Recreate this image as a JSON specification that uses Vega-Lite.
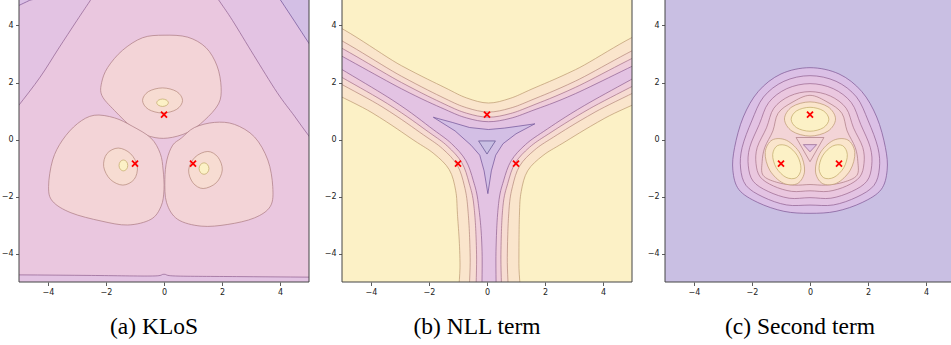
{
  "$schema": "https://vega.github.io/schema/vega-lite/v6.json",
  "padding": {"left": 1, "top": -4, "right": -4, "bottom": 5},
  "background": "white",
  "spacing": 33,
  "bounds": "flush",
  "config": {
    "view": {"stroke": null},
    "axis": {"domain": false, "grid": false, "ticks": true, "tickSize": 3.5, "tickColor": "#333", "tickWidth": 0.8, "labelFont": "DejaVu Sans", "labelFontSize": 8, "labelColor": "#222", "labelPadding": 2.5, "zindex": 1},
    "title": {"font": "Liberation Serif", "fontSize": 23.5, "fontWeight": "normal", "color": "#000", "orient": "bottom", "offset": 19, "anchor": "middle"}
  },
  "datasets": {
    "pts": [{"x": 0, "y": 0.87}, {"x": -1, "y": -0.85}, {"x": 1, "y": -0.85}],
    "a": [
      {"g":1,"lv":4,"i":0,"x":-6,"y":-6},{"g":1,"lv":4,"i":1,"x":6,"y":-6},{"g":1,"lv":4,"i":2,"x":6,"y":6},{"g":1,"lv":4,"i":3,"x":-6,"y":6},
      {"g":2,"lv":3,"i":0,"x":-1.74,"y":6.1},{"g":2,"lv":3,"i":1,"x":-2.54,"y":4.88},{"g":2,"lv":3,"i":2,"x":-3,"y":4.18},{"g":2,"lv":3,"i":3,"x":-3.65,"y":3.17},{"g":2,"lv":3,"i":4,"x":-4.27,"y":2.19},{"g":2,"lv":3,"i":5,"x":-5.03,"y":1.17},{"g":2,"lv":3,"i":6,"x":-5.6,"y":0.45},{"g":2,"lv":3,"i":7,"x":-6.5,"y":1},{"g":2,"lv":3,"i":8,"x":-6.5,"y":6.1},
      {"g":3,"lv":2,"i":0,"x":-5.6,"y":4.41},{"g":3,"lv":2,"i":1,"x":-5.03,"y":4.69},{"g":3,"lv":2,"i":2,"x":-4.64,"y":4.88},{"g":3,"lv":2,"i":3,"x":-4.1,"y":5.15},{"g":3,"lv":2,"i":4,"x":-6.5,"y":6.2},
      {"g":4,"lv":3,"i":0,"x":1.22,"y":5.9},{"g":4,"lv":3,"i":1,"x":1.91,"y":4.86},{"g":4,"lv":3,"i":2,"x":2.36,"y":4.18},{"g":4,"lv":3,"i":3,"x":3.1,"y":2.95},{"g":4,"lv":3,"i":4,"x":3.9,"y":1.65},{"g":4,"lv":3,"i":5,"x":4.5,"y":0.82},{"g":4,"lv":3,"i":6,"x":5.02,"y":0.09},{"g":4,"lv":3,"i":7,"x":5.6,"y":-0.65},{"g":4,"lv":3,"i":8,"x":6.6,"y":-0.3},{"g":4,"lv":3,"i":9,"x":6.6,"y":5.9},
      {"g":5,"lv":1,"i":0,"x":3.5,"y":5.7},{"g":5,"lv":1,"i":1,"x":4.04,"y":4.86},{"g":5,"lv":1,"i":2,"x":4.5,"y":4.15},{"g":5,"lv":1,"i":3,"x":5.02,"y":3.34},{"g":5,"lv":1,"i":4,"x":5.6,"y":2.44},{"g":5,"lv":1,"i":5,"x":6.6,"y":3},{"g":5,"lv":1,"i":6,"x":6.6,"y":5.7},
      {"g":6,"lv":3,"i":0,"x":-7.5,"y":-4.74},{"g":6,"lv":3,"i":1,"x":-5,"y":-4.75},{"g":6,"lv":3,"i":2,"x":-2.5,"y":-4.77},{"g":6,"lv":3,"i":3,"x":-0.4,"y":-4.79},{"g":6,"lv":3,"i":4,"x":0,"y":-4.73},{"g":6,"lv":3,"i":5,"x":0.4,"y":-4.79},{"g":6,"lv":3,"i":6,"x":2.5,"y":-4.81},{"g":6,"lv":3,"i":7,"x":5,"y":-4.83},{"g":6,"lv":3,"i":8,"x":7.5,"y":-4.85},{"g":6,"lv":3,"i":9,"x":7.5,"y":-7},{"g":6,"lv":3,"i":10,"x":-7.5,"y":-7},
      {"g":7,"lv":6,"i":0,"x":0,"y":3.66},{"g":7,"lv":6,"i":1,"x":0.82,"y":3.59},{"g":7,"lv":6,"i":2,"x":1.45,"y":3.22},{"g":7,"lv":6,"i":3,"x":1.83,"y":2.58},{"g":7,"lv":6,"i":4,"x":1.97,"y":1.83},{"g":7,"lv":6,"i":5,"x":1.88,"y":1.25},{"g":7,"lv":6,"i":6,"x":1.39,"y":0.67},{"g":7,"lv":6,"i":7,"x":0.82,"y":0.25},{"g":7,"lv":6,"i":8,"x":0.13,"y":0.05},{"g":7,"lv":6,"i":9,"x":-0.45,"y":0.1},{"g":7,"lv":6,"i":10,"x":-1.02,"y":0.36},{"g":7,"lv":6,"i":11,"x":-1.71,"y":1.02},{"g":7,"lv":6,"i":12,"x":-2.14,"y":1.54},{"g":7,"lv":6,"i":13,"x":-2.15,"y":2},{"g":7,"lv":6,"i":14,"x":-1.94,"y":2.53},{"g":7,"lv":6,"i":15,"x":-1.43,"y":3.13},{"g":7,"lv":6,"i":16,"x":-0.74,"y":3.57},
      {"g":8,"lv":6,"i":0,"x":-2.41,"y":0.85},{"g":8,"lv":6,"i":1,"x":-1.71,"y":0.76},{"g":8,"lv":6,"i":2,"x":-1.1,"y":0.47},{"g":8,"lv":6,"i":3,"x":-0.45,"y":0.05},{"g":8,"lv":6,"i":4,"x":-0.13,"y":-0.49},{"g":8,"lv":6,"i":5,"x":-0.03,"y":-1.07},{"g":8,"lv":6,"i":6,"x":0,"y":-1.76},{"g":8,"lv":6,"i":7,"x":-0.1,"y":-2.34},{"g":8,"lv":6,"i":8,"x":-0.45,"y":-2.8},{"g":8,"lv":6,"i":9,"x":-1.25,"y":-3},{"g":8,"lv":6,"i":10,"x":-2.17,"y":-2.86},{"g":8,"lv":6,"i":11,"x":-3.21,"y":-2.57},{"g":8,"lv":6,"i":12,"x":-3.84,"y":-2.17},{"g":8,"lv":6,"i":13,"x":-3.98,"y":-1.65},{"g":8,"lv":6,"i":14,"x":-3.84,"y":-0.72},{"g":8,"lv":6,"i":15,"x":-3.5,"y":-0.02},{"g":8,"lv":6,"i":16,"x":-2.98,"y":0.56},
      {"g":9,"lv":6,"i":0,"x":0.3,"y":-0.2},{"g":9,"lv":6,"i":1,"x":0.6,"y":0.05},{"g":9,"lv":6,"i":2,"x":1.05,"y":0.42},{"g":9,"lv":6,"i":3,"x":1.74,"y":0.6},{"g":9,"lv":6,"i":4,"x":2.43,"y":0.53},{"g":9,"lv":6,"i":5,"x":3.12,"y":0.09},{"g":9,"lv":6,"i":6,"x":3.58,"y":-0.72},{"g":9,"lv":6,"i":7,"x":3.75,"y":-1.65},{"g":9,"lv":6,"i":8,"x":3.67,"y":-2.34},{"g":9,"lv":6,"i":9,"x":3.12,"y":-2.75},{"g":9,"lv":6,"i":10,"x":2.2,"y":-2.98},{"g":9,"lv":6,"i":11,"x":1.28,"y":-3.04},{"g":9,"lv":6,"i":12,"x":0.47,"y":-2.8},{"g":9,"lv":6,"i":13,"x":0.09,"y":-2.22},{"g":9,"lv":6,"i":14,"x":0.03,"y":-1.41},{"g":9,"lv":6,"i":15,"x":0.1,"y":-0.72},
      {"g":10,"lv":7,"i":0,"x":0.64,"y":1.37},{"g":10,"lv":7,"i":1,"x":0.438,"y":1.681},{"g":10,"lv":7,"i":2,"x":-0.05,"y":1.81},{"g":10,"lv":7,"i":3,"x":-0.538,"y":1.681},{"g":10,"lv":7,"i":4,"x":-0.74,"y":1.37},{"g":10,"lv":7,"i":5,"x":-0.538,"y":1.059},{"g":10,"lv":7,"i":6,"x":-0.05,"y":0.93},{"g":10,"lv":7,"i":7,"x":0.438,"y":1.059},
      {"g":11,"lv":7,"i":0,"x":-0.92,"y":-0.95},{"g":11,"lv":7,"i":1,"x":-1.15,"y":-0.5},{"g":11,"lv":7,"i":2,"x":-1.58,"y":-0.3},{"g":11,"lv":7,"i":3,"x":-1.97,"y":-0.5},{"g":11,"lv":7,"i":4,"x":-2.08,"y":-0.95},{"g":11,"lv":7,"i":5,"x":-1.85,"y":-1.4},{"g":11,"lv":7,"i":6,"x":-1.42,"y":-1.6},{"g":11,"lv":7,"i":7,"x":-1.03,"y":-1.4},
      {"g":12,"lv":7,"i":0,"x":2.01,"y":-1.07},{"g":12,"lv":7,"i":1,"x":1.86,"y":-0.62},{"g":12,"lv":7,"i":2,"x":1.51,"y":-0.42},{"g":12,"lv":7,"i":3,"x":1.07,"y":-0.62},{"g":12,"lv":7,"i":4,"x":0.85,"y":-1.07},{"g":12,"lv":7,"i":5,"x":1,"y":-1.52},{"g":12,"lv":7,"i":6,"x":1.35,"y":-1.72},{"g":12,"lv":7,"i":7,"x":1.8,"y":-1.52},
      {"g":13,"lv":9,"i":0,"x":0.15,"y":1.29},{"g":13,"lv":9,"i":1,"x":0.09,"y":1.38},{"g":13,"lv":9,"i":2,"x":-0.05,"y":1.42},{"g":13,"lv":9,"i":3,"x":-0.19,"y":1.38},{"g":13,"lv":9,"i":4,"x":-0.25,"y":1.29},{"g":13,"lv":9,"i":5,"x":-0.19,"y":1.2},{"g":13,"lv":9,"i":6,"x":-0.05,"y":1.16},{"g":13,"lv":9,"i":7,"x":0.09,"y":1.2},
      {"g":14,"lv":9,"i":0,"x":-1.25,"y":-0.91},{"g":14,"lv":9,"i":1,"x":-1.29,"y":-0.78},{"g":14,"lv":9,"i":2,"x":-1.4,"y":-0.72},{"g":14,"lv":9,"i":3,"x":-1.51,"y":-0.78},{"g":14,"lv":9,"i":4,"x":-1.55,"y":-0.91},{"g":14,"lv":9,"i":5,"x":-1.51,"y":-1.04},{"g":14,"lv":9,"i":6,"x":-1.4,"y":-1.1},{"g":14,"lv":9,"i":7,"x":-1.29,"y":-1.04},
      {"g":15,"lv":9,"i":0,"x":1.55,"y":-1.02},{"g":15,"lv":9,"i":1,"x":1.5,"y":-0.88},{"g":15,"lv":9,"i":2,"x":1.38,"y":-0.82},{"g":15,"lv":9,"i":3,"x":1.26,"y":-0.88},{"g":15,"lv":9,"i":4,"x":1.21,"y":-1.02},{"g":15,"lv":9,"i":5,"x":1.26,"y":-1.16},{"g":15,"lv":9,"i":6,"x":1.38,"y":-1.22},{"g":15,"lv":9,"i":7,"x":1.5,"y":-1.16}
    ],
    "b": [
      {"g":1,"lv":9,"i":0,"x":-6,"y":-6},{"g":1,"lv":9,"i":1,"x":6,"y":-6},{"g":1,"lv":9,"i":2,"x":6,"y":6},{"g":1,"lv":9,"i":3,"x":-6,"y":6},
      {"g":2,"lv":8,"i":0,"x":-5.95,"y":4.27},{"g":2,"lv":8,"i":1,"x":-2.95,"y":2.59},{"g":2,"lv":8,"i":2,"x":-1.45,"y":1.819},{"g":2,"lv":8,"i":3,"x":-0.7,"y":1.457},{"g":2,"lv":8,"i":4,"x":0.05,"y":1.28},{"g":2,"lv":8,"i":5,"x":0.8,"y":1.444},{"g":2,"lv":8,"i":6,"x":1.55,"y":1.772},{"g":2,"lv":8,"i":7,"x":3.05,"y":2.45},{"g":2,"lv":8,"i":8,"x":6.05,"y":3.96},
      {"g":2,"lv":8,"i":9,"x":7.042,"y":2.39},{"g":2,"lv":8,"i":10,"x":4.065,"y":0.75},{"g":2,"lv":8,"i":11,"x":2.618,"y":-0.126},{"g":2,"lv":8,"i":12,"x":1.929,"y":-0.563},{"g":2,"lv":8,"i":13,"x":1.401,"y":-1.1},{"g":2,"lv":8,"i":14,"x":1.179,"y":-1.83},{"g":2,"lv":8,"i":15,"x":1.118,"y":-2.657},{"g":2,"lv":8,"i":16,"x":1.1,"y":-4.355},{"g":2,"lv":8,"i":17,"x":1.1,"y":-7.8},
      {"g":2,"lv":8,"i":18,"x":-0.92,"y":-7.781},{"g":2,"lv":8,"i":19,"x":-0.93,"y":-4.33},{"g":2,"lv":8,"i":20,"x":-1.018,"y":-2.629},{"g":2,"lv":8,"i":21,"x":-1.079,"y":-1.799},{"g":2,"lv":8,"i":22,"x":-1.301,"y":-1.06},{"g":2,"lv":8,"i":23,"x":-1.829,"y":-0.499},{"g":2,"lv":8,"i":24,"x":-2.518,"y":-0.031},{"g":2,"lv":8,"i":25,"x":-3.965,"y":0.94},{"g":2,"lv":8,"i":26,"x":-6.942,"y":2.72},
      {"g":3,"lv":7,"i":0,"x":-5.95,"y":3.9},{"g":3,"lv":7,"i":1,"x":-2.95,"y":2.22},{"g":3,"lv":7,"i":2,"x":-1.45,"y":1.438},{"g":3,"lv":7,"i":3,"x":-0.7,"y":1.113},{"g":3,"lv":7,"i":4,"x":0.05,"y":0.963},{"g":3,"lv":7,"i":5,"x":0.8,"y":1.1},{"g":3,"lv":7,"i":6,"x":1.55,"y":1.391},{"g":3,"lv":7,"i":7,"x":3.05,"y":2.05},{"g":3,"lv":7,"i":8,"x":6.05,"y":3.55},
      {"g":3,"lv":7,"i":9,"x":6.686,"y":2.61},{"g":3,"lv":7,"i":10,"x":3.723,"y":0.96},{"g":3,"lv":7,"i":11,"x":2.288,"y":0.08},{"g":3,"lv":7,"i":12,"x":1.631,"y":-0.377},{"g":3,"lv":7,"i":13,"x":1.126,"y":-0.929},{"g":3,"lv":7,"i":14,"x":0.881,"y":-1.643},{"g":3,"lv":7,"i":15,"x":0.76,"y":-2.451},{"g":3,"lv":7,"i":16,"x":0.7,"y":-4.142},{"g":3,"lv":7,"i":17,"x":0.69,"y":-7.585},
      {"g":3,"lv":7,"i":18,"x":-0.56,"y":-7.575},{"g":3,"lv":7,"i":19,"x":-0.58,"y":-4.132},{"g":3,"lv":7,"i":20,"x":-0.66,"y":-2.438},{"g":3,"lv":7,"i":21,"x":-0.781,"y":-1.626},{"g":3,"lv":7,"i":22,"x":-1.026,"y":-0.901},{"g":3,"lv":7,"i":23,"x":-1.531,"y":-0.326},{"g":3,"lv":7,"i":24,"x":-2.188,"y":0.16},{"g":3,"lv":7,"i":25,"x":-3.623,"y":1.15},{"g":3,"lv":7,"i":26,"x":-6.586,"y":2.96},
      {"g":4,"lv":5,"i":0,"x":-5.95,"y":3.67},{"g":4,"lv":5,"i":1,"x":-2.95,"y":2},{"g":4,"lv":5,"i":2,"x":-1.45,"y":1.235},{"g":4,"lv":5,"i":3,"x":-0.7,"y":0.922},{"g":4,"lv":5,"i":4,"x":0.05,"y":0.782},{"g":4,"lv":5,"i":5,"x":0.8,"y":0.909},{"g":4,"lv":5,"i":6,"x":1.55,"y":1.188},{"g":4,"lv":5,"i":7,"x":3.05,"y":1.83},{"g":4,"lv":5,"i":8,"x":6.05,"y":3.31},
      {"g":4,"lv":5,"i":9,"x":6.493,"y":2.74},{"g":4,"lv":5,"i":10,"x":3.537,"y":1.08},{"g":4,"lv":5,"i":11,"x":2.112,"y":0.188},{"g":4,"lv":5,"i":12,"x":1.466,"y":-0.274},{"g":4,"lv":5,"i":13,"x":0.97,"y":-0.832},{"g":4,"lv":5,"i":14,"x":0.716,"y":-1.541},{"g":4,"lv":5,"i":15,"x":0.55,"y":-2.342},{"g":4,"lv":5,"i":16,"x":0.48,"y":-4.025},{"g":4,"lv":5,"i":17,"x":0.47,"y":-7.464},
      {"g":4,"lv":5,"i":18,"x":-0.34,"y":-7.464},{"g":4,"lv":5,"i":19,"x":-0.36,"y":-4.025},{"g":4,"lv":5,"i":20,"x":-0.45,"y":-2.337},{"g":4,"lv":5,"i":21,"x":-0.616,"y":-1.531},{"g":4,"lv":5,"i":22,"x":-0.87,"y":-0.811},{"g":4,"lv":5,"i":23,"x":-1.366,"y":-0.231},{"g":4,"lv":5,"i":24,"x":-2.012,"y":0.261},{"g":4,"lv":5,"i":25,"x":-3.437,"y":1.26},{"g":4,"lv":5,"i":26,"x":-6.393,"y":3.08},
      {"g":5,"lv":3,"i":0,"x":-5.95,"y":3.42},{"g":5,"lv":3,"i":1,"x":-2.95,"y":1.78},{"g":5,"lv":3,"i":2,"x":-1.45,"y":1.056},{"g":5,"lv":3,"i":3,"x":-0.7,"y":0.755},{"g":5,"lv":3,"i":4,"x":0.05,"y":0.624},{"g":5,"lv":3,"i":5,"x":0.8,"y":0.742},{"g":5,"lv":3,"i":6,"x":1.55,"y":1.009},{"g":5,"lv":3,"i":7,"x":3.05,"y":1.61},{"g":5,"lv":3,"i":8,"x":6.05,"y":3.06},
      {"g":5,"lv":3,"i":9,"x":6.319,"y":2.89},{"g":5,"lv":3,"i":10,"x":3.371,"y":1.2},{"g":5,"lv":3,"i":11,"x":1.957,"y":0.285},{"g":5,"lv":3,"i":12,"x":1.321,"y":-0.185},{"g":5,"lv":3,"i":13,"x":0.833,"y":-0.747},{"g":5,"lv":3,"i":14,"x":0.571,"y":-1.451},{"g":5,"lv":3,"i":15,"x":0.4,"y":-2.247},{"g":5,"lv":3,"i":16,"x":0.31,"y":-3.93},{"g":5,"lv":3,"i":17,"x":0.29,"y":-7.364},
      {"g":5,"lv":3,"i":18,"x":-0.16,"y":-7.364},{"g":5,"lv":3,"i":19,"x":-0.17,"y":-3.93},{"g":5,"lv":3,"i":20,"x":-0.3,"y":-2.247},{"g":5,"lv":3,"i":21,"x":-0.471,"y":-1.448},{"g":5,"lv":3,"i":22,"x":-0.733,"y":-0.732},{"g":5,"lv":3,"i":23,"x":-1.221,"y":-0.148},{"g":5,"lv":3,"i":24,"x":-1.857,"y":0.351},{"g":5,"lv":3,"i":25,"x":-3.271,"y":1.39},{"g":5,"lv":3,"i":26,"x":-6.219,"y":3.23}
    ],
    "tb": [
      {"g":1,"lv":1,"i":0,"x":-1.85,"y":0.78},{"g":1,"lv":1,"i":1,"x":-1.2,"y":0.6},{"g":1,"lv":1,"i":2,"x":-0.6,"y":0.42},{"g":1,"lv":1,"i":3,"x":0.05,"y":0.35},{"g":1,"lv":1,"i":4,"x":0.6,"y":0.4},{"g":1,"lv":1,"i":5,"x":1.1,"y":0.47},{"g":1,"lv":1,"i":6,"x":1.65,"y":0.55},{"g":1,"lv":1,"i":7,"x":1,"y":0.2},{"g":1,"lv":1,"i":8,"x":0.55,"y":-0.15},{"g":1,"lv":1,"i":9,"x":0.3,"y":-0.55},{"g":1,"lv":1,"i":10,"x":0.15,"y":-1.1},{"g":1,"lv":1,"i":11,"x":0.03,"y":-1.9},{"g":1,"lv":1,"i":12,"x":-0.1,"y":-1.1},{"g":1,"lv":1,"i":13,"x":-0.25,"y":-0.55},{"g":1,"lv":1,"i":14,"x":-0.55,"y":-0.2},{"g":1,"lv":1,"i":15,"x":-1.1,"y":0.3},
      {"g":2,"lv":0,"i":0,"x":-0.29,"y":-0.05},{"g":2,"lv":0,"i":1,"x":0.29,"y":-0.05},{"g":2,"lv":0,"i":2,"x":0,"y":-0.51}
    ],
    "c": [
      {"g":1,"lv":0,"i":0,"x":-6,"y":-6},{"g":1,"lv":0,"i":1,"x":6,"y":-6},{"g":1,"lv":0,"i":2,"x":6,"y":6},{"g":1,"lv":0,"i":3,"x":-6,"y":6},
      {"g":2,"lv":2,"i":0,"x":0,"y":2.52},{"g":2,"lv":2,"i":1,"x":1,"y":2.3},{"g":2,"lv":2,"i":2,"x":1.78,"y":1.69},{"g":2,"lv":2,"i":3,"x":2.3,"y":0.79},{"g":2,"lv":2,"i":4,"x":2.6,"y":-0.28},{"g":2,"lv":2,"i":5,"x":2.66,"y":-1.08},{"g":2,"lv":2,"i":6,"x":2.45,"y":-1.76},{"g":2,"lv":2,"i":7,"x":1.8,"y":-2.21},{"g":2,"lv":2,"i":8,"x":0.9,"y":-2.52},{"g":2,"lv":2,"i":9,"x":0,"y":-2.59},{"g":2,"lv":2,"i":10,"x":-0.9,"y":-2.52},{"g":2,"lv":2,"i":11,"x":-1.8,"y":-2.21},{"g":2,"lv":2,"i":12,"x":-2.45,"y":-1.76},{"g":2,"lv":2,"i":13,"x":-2.66,"y":-1.08},{"g":2,"lv":2,"i":14,"x":-2.6,"y":-0.28},{"g":2,"lv":2,"i":15,"x":-2.3,"y":0.79},{"g":2,"lv":2,"i":16,"x":-1.78,"y":1.69},{"g":2,"lv":2,"i":17,"x":-1,"y":2.3},
      {"g":3,"lv":3,"i":0,"x":0,"y":2.24},{"g":3,"lv":3,"i":1,"x":0.9,"y":2.042},{"g":3,"lv":3,"i":2,"x":1.602,"y":1.493},{"g":3,"lv":3,"i":3,"x":2.008,"y":0.654},{"g":3,"lv":3,"i":4,"x":2.34,"y":-0.28},{"g":3,"lv":3,"i":5,"x":2.394,"y":-1},{"g":3,"lv":3,"i":6,"x":2.205,"y":-1.612},{"g":3,"lv":3,"i":7,"x":1.62,"y":-2.017},{"g":3,"lv":3,"i":8,"x":0.81,"y":-2.296},{"g":3,"lv":3,"i":9,"x":0,"y":-2.3},{"g":3,"lv":3,"i":10,"x":-0.81,"y":-2.296},{"g":3,"lv":3,"i":11,"x":-1.62,"y":-2.017},{"g":3,"lv":3,"i":12,"x":-2.205,"y":-1.612},{"g":3,"lv":3,"i":13,"x":-2.394,"y":-1},{"g":3,"lv":3,"i":14,"x":-2.34,"y":-0.28},{"g":3,"lv":3,"i":15,"x":-2.008,"y":0.654},{"g":3,"lv":3,"i":16,"x":-1.602,"y":1.493},{"g":3,"lv":3,"i":17,"x":-0.9,"y":2.042},
      {"g":4,"lv":4,"i":0,"x":0,"y":1.96},{"g":4,"lv":4,"i":1,"x":0.8,"y":1.784},{"g":4,"lv":4,"i":2,"x":1.424,"y":1.296},{"g":4,"lv":4,"i":3,"x":1.748,"y":0.533},{"g":4,"lv":4,"i":4,"x":2.08,"y":-0.28},{"g":4,"lv":4,"i":5,"x":2.128,"y":-0.92},{"g":4,"lv":4,"i":6,"x":1.96,"y":-1.464},{"g":4,"lv":4,"i":7,"x":1.44,"y":-1.824},{"g":4,"lv":4,"i":8,"x":0.72,"y":-2.06},{"g":4,"lv":4,"i":9,"x":0,"y":-2.04},{"g":4,"lv":4,"i":10,"x":-0.72,"y":-2.06},{"g":4,"lv":4,"i":11,"x":-1.44,"y":-1.824},{"g":4,"lv":4,"i":12,"x":-1.96,"y":-1.464},{"g":4,"lv":4,"i":13,"x":-2.128,"y":-0.92},{"g":4,"lv":4,"i":14,"x":-2.08,"y":-0.28},{"g":4,"lv":4,"i":15,"x":-1.748,"y":0.533},{"g":4,"lv":4,"i":16,"x":-1.424,"y":1.296},{"g":4,"lv":4,"i":17,"x":-0.8,"y":1.784},
      {"g":5,"lv":5,"i":0,"x":0,"y":1.68},{"g":5,"lv":5,"i":1,"x":0.7,"y":1.526},{"g":5,"lv":5,"i":2,"x":1.246,"y":1.099},{"g":5,"lv":5,"i":3,"x":1.5,"y":0.41},{"g":5,"lv":5,"i":4,"x":1.82,"y":-0.28},{"g":5,"lv":5,"i":5,"x":1.862,"y":-0.84},{"g":5,"lv":5,"i":6,"x":1.715,"y":-1.316},{"g":5,"lv":5,"i":7,"x":1.26,"y":-1.631},{"g":5,"lv":5,"i":8,"x":0.63,"y":-1.82},{"g":5,"lv":5,"i":9,"x":0,"y":-1.8},{"g":5,"lv":5,"i":10,"x":-0.63,"y":-1.82},{"g":5,"lv":5,"i":11,"x":-1.26,"y":-1.631},{"g":5,"lv":5,"i":12,"x":-1.715,"y":-1.316},{"g":5,"lv":5,"i":13,"x":-1.862,"y":-0.84},{"g":5,"lv":5,"i":14,"x":-1.82,"y":-0.28},{"g":5,"lv":5,"i":15,"x":-1.5,"y":0.41},{"g":5,"lv":5,"i":16,"x":-1.246,"y":1.099},{"g":5,"lv":5,"i":17,"x":-0.7,"y":1.526},
      {"g":6,"lv":6,"i":0,"x":0,"y":1.55},{"g":6,"lv":6,"i":1,"x":0.62,"y":1.3},{"g":6,"lv":6,"i":2,"x":1.1,"y":0.92},{"g":6,"lv":6,"i":3,"x":1.28,"y":0.3},{"g":6,"lv":6,"i":4,"x":1.56,"y":-0.28},{"g":6,"lv":6,"i":5,"x":1.65,"y":-0.78},{"g":6,"lv":6,"i":6,"x":1.617,"y":-1.257},{"g":6,"lv":6,"i":7,"x":1.15,"y":-1.5},{"g":6,"lv":6,"i":8,"x":0.54,"y":-1.6},{"g":6,"lv":6,"i":9,"x":0,"y":-1.58},{"g":6,"lv":6,"i":10,"x":-0.54,"y":-1.6},{"g":6,"lv":6,"i":11,"x":-1.15,"y":-1.5},{"g":6,"lv":6,"i":12,"x":-1.617,"y":-1.257},{"g":6,"lv":6,"i":13,"x":-1.65,"y":-0.78},{"g":6,"lv":6,"i":14,"x":-1.56,"y":-0.28},{"g":6,"lv":6,"i":15,"x":-1.28,"y":0.3},{"g":6,"lv":6,"i":16,"x":-1.1,"y":0.92},{"g":6,"lv":6,"i":17,"x":-0.62,"y":1.3},
      {"g":7,"lv":8,"i":0,"x":0.88,"y":0.72},{"g":7,"lv":8,"i":1,"x":0.622,"y":1.144},{"g":7,"lv":8,"i":2,"x":0,"y":1.32},{"g":7,"lv":8,"i":3,"x":-0.622,"y":1.144},{"g":7,"lv":8,"i":4,"x":-0.88,"y":0.72},{"g":7,"lv":8,"i":5,"x":-0.622,"y":0.296},{"g":7,"lv":8,"i":6,"x":0,"y":0.12},{"g":7,"lv":8,"i":7,"x":0.622,"y":0.296},
      {"g":8,"lv":8,"i":0,"x":-1.306,"y":-0.018},{"g":8,"lv":8,"i":1,"x":-1.545,"y":-0.453},{"g":8,"lv":8,"i":2,"x":-1.386,"y":-1.08},{"g":8,"lv":8,"i":3,"x":-0.923,"y":-1.531},{"g":8,"lv":8,"i":4,"x":-0.426,"y":-1.542},{"g":8,"lv":8,"i":5,"x":-0.187,"y":-1.107},{"g":8,"lv":8,"i":6,"x":-0.346,"y":-0.48},{"g":8,"lv":8,"i":7,"x":-0.809,"y":-0.029},
      {"g":9,"lv":8,"i":0,"x":1.306,"y":-0.018},{"g":9,"lv":8,"i":1,"x":1.545,"y":-0.453},{"g":9,"lv":8,"i":2,"x":1.386,"y":-1.08},{"g":9,"lv":8,"i":3,"x":0.923,"y":-1.531},{"g":9,"lv":8,"i":4,"x":0.426,"y":-1.542},{"g":9,"lv":8,"i":5,"x":0.187,"y":-1.107},{"g":9,"lv":8,"i":6,"x":0.346,"y":-0.48},{"g":9,"lv":8,"i":7,"x":0.809,"y":-0.029},
      {"g":10,"lv":9,"i":0,"x":0.65,"y":0.71},{"g":10,"lv":9,"i":1,"x":0.46,"y":1.007},{"g":10,"lv":9,"i":2,"x":0,"y":1.13},{"g":10,"lv":9,"i":3,"x":-0.46,"y":1.007},{"g":10,"lv":9,"i":4,"x":-0.65,"y":0.71},{"g":10,"lv":9,"i":5,"x":-0.46,"y":0.413},{"g":10,"lv":9,"i":6,"x":0,"y":0.29},{"g":10,"lv":9,"i":7,"x":0.46,"y":0.413},
      {"g":11,"lv":9,"i":0,"x":-1.125,"y":-0.217},{"g":11,"lv":9,"i":1,"x":-1.287,"y":-0.531},{"g":11,"lv":9,"i":2,"x":-1.164,"y":-0.99},{"g":11,"lv":9,"i":3,"x":-0.827,"y":-1.327},{"g":11,"lv":9,"i":4,"x":-0.475,"y":-1.343},{"g":11,"lv":9,"i":5,"x":-0.313,"y":-1.029},{"g":11,"lv":9,"i":6,"x":-0.436,"y":-0.57},{"g":11,"lv":9,"i":7,"x":-0.773,"y":-0.233},
      {"g":12,"lv":9,"i":0,"x":1.125,"y":-0.217},{"g":12,"lv":9,"i":1,"x":1.287,"y":-0.531},{"g":12,"lv":9,"i":2,"x":1.164,"y":-0.99},{"g":12,"lv":9,"i":3,"x":0.827,"y":-1.327},{"g":12,"lv":9,"i":4,"x":0.475,"y":-1.343},{"g":12,"lv":9,"i":5,"x":0.313,"y":-1.029},{"g":12,"lv":9,"i":6,"x":0.436,"y":-0.57},{"g":12,"lv":9,"i":7,"x":0.773,"y":-0.233}
    ],
    "tc": [
      {"g":1,"lv":6,"i":0,"x":-0.48,"y":0.07},{"g":1,"lv":6,"i":1,"x":0.48,"y":0.07},{"g":1,"lv":6,"i":2,"x":0,"y":-0.78},
      {"g":2,"lv":3,"i":0,"x":-0.23,"y":-0.18},{"g":2,"lv":3,"i":1,"x":0.23,"y":-0.18},{"g":2,"lv":3,"i":2,"x":0,"y":-0.43}
    ]
  },
  "hconcat": [
    {
      "title": {"text": "(a) KLoS", "dx": -10},
      "width": 290, "height": 285,
      "layer": [
        {
          "data": {"name": "a"},
          "mark": {"type": "line", "interpolate": "cardinal-closed", "clip": true, "strokeWidth": 0.8, "strokeOpacity": 0.85},
          "encoding": {
            "x": {"field": "x", "type": "quantitative", "title": null, "scale": {"domain": [-5, 5], "nice": false, "zero": false}, "axis": {"values": [-4, -2, 0, 2, 4]}},
            "y": {"field": "y", "type": "quantitative", "title": null, "scale": {"domain": [-5, 5], "nice": false, "zero": false}, "axis": {"values": [-4, -2, 0, 2, 4]}},
            "detail": {"field": "g", "type": "nominal"},
            "order": {"field": "i", "type": "quantitative"},
            "fill": {"field": "lv", "type": "ordinal", "legend": null, "scale": {"domain": [0,1,2,3,4,5,6,7,8,9], "range": ["#c9bfe3","#d3bfe5","#dbc0e6","#e3c3e3","#eac7df","#efcddb","#f3d4d7","#f7dcd2","#fae5cc","#fcf1c6"]}},
            "stroke": {"field": "lv", "type": "ordinal", "legend": null, "scale": {"domain": [0,1,2,3,4,5,6,7,8,9], "range": ["#5b4a8a","#6a4c93","#7a5090","#8a5a8c","#96628a","#a06c84","#a8767e","#b08476","#b8946c","#bca462"]}}
          }
        },
        {
          "data": {"name": "pts"},
          "mark": {"type": "point", "shape": "M-1,-1L1,1M-1,1L1,-1", "filled": false, "stroke": "#ff0000", "strokeWidth": 1.8, "size": 36, "opacity": 1},
          "encoding": {
            "x": {"field": "x", "type": "quantitative", "title": null},
            "y": {"field": "y", "type": "quantitative", "title": null}
          }
        },
        {
          "data": {"values": [{}]},
          "mark": {"type": "rect", "filled": false, "color": "#444", "strokeWidth": 1},
          "encoding": {"x": {"datum": -5, "type": "quantitative"}, "x2": {"datum": 5}, "y": {"datum": -5, "type": "quantitative"}, "y2": {"datum": 5}}
        }
      ]
    },
    {
      "title": {"text": "(b) NLL term", "dx": -10},
      "width": 290, "height": 285,
      "layer": [
        {
          "data": {"name": "b"},
          "mark": {"type": "line", "interpolate": "cardinal-closed", "clip": true, "strokeWidth": 0.8, "strokeOpacity": 0.85},
          "encoding": {
            "x": {"field": "x", "type": "quantitative", "title": null, "scale": {"domain": [-5, 5], "nice": false, "zero": false}, "axis": {"values": [-4, -2, 0, 2, 4]}},
            "y": {"field": "y", "type": "quantitative", "title": null, "scale": {"domain": [-5, 5], "nice": false, "zero": false}, "axis": {"values": [-4, -2, 0, 2, 4]}},
            "detail": {"field": "g", "type": "nominal"},
            "order": {"field": "i", "type": "quantitative"},
            "fill": {"field": "lv", "type": "ordinal", "legend": null, "scale": {"domain": [0,1,2,3,4,5,6,7,8,9], "range": ["#c9bfe3","#d3bfe5","#dbc0e6","#e3c3e3","#eac7df","#efcddb","#f3d4d7","#f7dcd2","#fae5cc","#fcf1c6"]}},
            "stroke": {"field": "lv", "type": "ordinal", "legend": null, "scale": {"domain": [0,1,2,3,4,5,6,7,8,9], "range": ["#5b4a8a","#6a4c93","#7a5090","#8a5a8c","#96628a","#a06c84","#a8767e","#b08476","#b8946c","#bca462"]}}
          }
        },
        {
          "data": {"name": "tb"},
          "mark": {"type": "line", "interpolate": "linear-closed", "clip": true, "strokeWidth": 0.8, "strokeOpacity": 0.85},
          "encoding": {
            "x": {"field": "x", "type": "quantitative", "title": null},
            "y": {"field": "y", "type": "quantitative", "title": null},
            "detail": {"field": "g", "type": "nominal"},
            "order": {"field": "i", "type": "quantitative"},
            "fill": {"field": "lv", "type": "ordinal", "legend": null},
            "stroke": {"field": "lv", "type": "ordinal", "legend": null}
          }
        },
        {
          "data": {"name": "pts"},
          "mark": {"type": "point", "shape": "M-1,-1L1,1M-1,1L1,-1", "filled": false, "stroke": "#ff0000", "strokeWidth": 1.8, "size": 36, "opacity": 1},
          "encoding": {
            "x": {"field": "x", "type": "quantitative", "title": null},
            "y": {"field": "y", "type": "quantitative", "title": null}
          }
        },
        {
          "data": {"values": [{}]},
          "mark": {"type": "rect", "filled": false, "color": "#444", "strokeWidth": 1},
          "encoding": {"x": {"datum": -5, "type": "quantitative"}, "x2": {"datum": 5}, "y": {"datum": -5, "type": "quantitative"}, "y2": {"datum": 5}}
        }
      ]
    },
    {
      "title": {"text": "(c) Second term", "dx": -10},
      "width": 290, "height": 285,
      "layer": [
        {
          "data": {"name": "c"},
          "mark": {"type": "line", "interpolate": "cardinal-closed", "clip": true, "strokeWidth": 0.8, "strokeOpacity": 0.85},
          "encoding": {
            "x": {"field": "x", "type": "quantitative", "title": null, "scale": {"domain": [-5, 5], "nice": false, "zero": false}, "axis": {"values": [-4, -2, 0, 2, 4]}},
            "y": {"field": "y", "type": "quantitative", "title": null, "scale": {"domain": [-5, 5], "nice": false, "zero": false}, "axis": {"values": [-4, -2, 0, 2, 4]}},
            "detail": {"field": "g", "type": "nominal"},
            "order": {"field": "i", "type": "quantitative"},
            "fill": {"field": "lv", "type": "ordinal", "legend": null, "scale": {"domain": [0,1,2,3,4,5,6,7,8,9], "range": ["#c9bfe3","#d3bfe5","#dbc0e6","#e3c3e3","#eac7df","#efcddb","#f3d4d7","#f7dcd2","#fae5cc","#fcf1c6"]}},
            "stroke": {"field": "lv", "type": "ordinal", "legend": null, "scale": {"domain": [0,1,2,3,4,5,6,7,8,9], "range": ["#5b4a8a","#6a4c93","#7a5090","#8a5a8c","#96628a","#a06c84","#a8767e","#b08476","#b8946c","#bca462"]}}
          }
        },
        {
          "data": {"name": "tc"},
          "mark": {"type": "line", "interpolate": "linear-closed", "clip": true, "strokeWidth": 0.8, "strokeOpacity": 0.85},
          "encoding": {
            "x": {"field": "x", "type": "quantitative", "title": null},
            "y": {"field": "y", "type": "quantitative", "title": null},
            "detail": {"field": "g", "type": "nominal"},
            "order": {"field": "i", "type": "quantitative"},
            "fill": {"field": "lv", "type": "ordinal", "legend": null},
            "stroke": {"field": "lv", "type": "ordinal", "legend": null}
          }
        },
        {
          "data": {"name": "pts"},
          "mark": {"type": "point", "shape": "M-1,-1L1,1M-1,1L1,-1", "filled": false, "stroke": "#ff0000", "strokeWidth": 1.8, "size": 36, "opacity": 1},
          "encoding": {
            "x": {"field": "x", "type": "quantitative", "title": null},
            "y": {"field": "y", "type": "quantitative", "title": null}
          }
        },
        {
          "data": {"values": [{}]},
          "mark": {"type": "rect", "filled": false, "color": "#444", "strokeWidth": 1},
          "encoding": {"x": {"datum": -5, "type": "quantitative"}, "x2": {"datum": 5}, "y": {"datum": -5, "type": "quantitative"}, "y2": {"datum": 5}}
        }
      ]
    }
  ]
}
